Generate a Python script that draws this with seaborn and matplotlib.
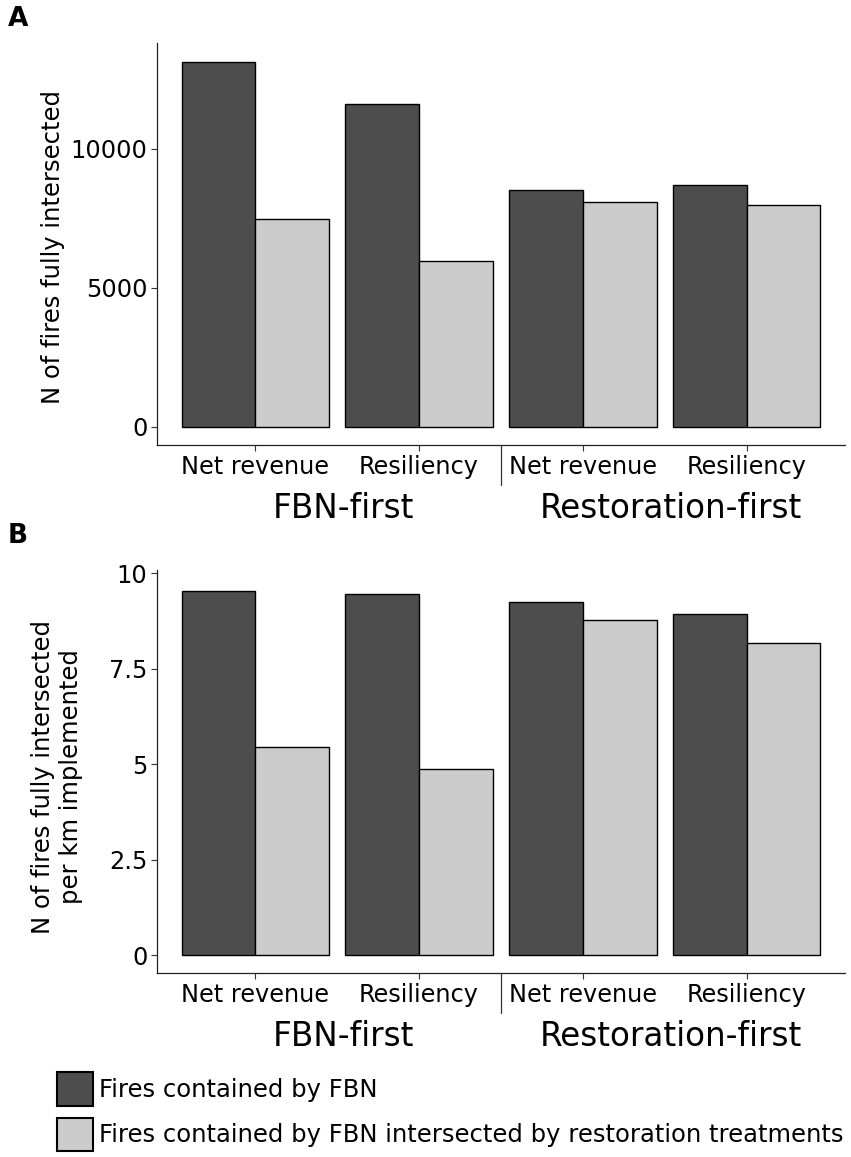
import pandas as pd
import seaborn as sns
import matplotlib.pyplot as plt
from matplotlib.patches import Patch
from matplotlib.transforms import blended_transform_factory

# data
strategies = ["FBN-first", "FBN-first", "Restoration-first", "Restoration-first"]
priorities = ["Net revenue", "Resiliency", "Net revenue", "Resiliency"]
series = ["Fires contained by FBN",
          "Fires contained by FBN intersected by restoration treatments"]

fires_fbn = [13110, 11610, 8500, 8690]
fires_restor = [7460, 5960, 8070, 7970]
per_km_fbn = [9.54, 9.46, 9.25, 8.93]
per_km_restor = [5.44, 4.86, 8.78, 8.18]

colors = ["#4d4d4d", "#cccccc"]

scen = [s + " / " + p for s, p in zip(strategies, priorities)]
df = pd.DataFrame({
    "scenario": scen * 2,
    "series": [series[0]] * 4 + [series[1]] * 4,
    "fires": fires_fbn + fires_restor,
    "per_km": per_km_fbn + per_km_restor,
})

sns.set_style("ticks")
plt.rcParams['font.family'] = ['DejaVu Sans']
plt.rcParams['text.color'] = 'black'

fig = plt.figure(figsize=(8.51, 11.57), dpi=100)
axA = fig.add_axes([0.1845, 0.6154, 0.8085, 0.3477])
axB = fig.add_axes([0.1845, 0.159, 0.8085, 0.3483])


def panel(ax, col, yticks, yticklabels, ylim):
    sns.barplot(data=df, x="scenario", y=col, hue="series", order=scen,
                hue_order=series, palette=colors, width=0.9, saturation=1,
                edgecolor="black", linewidth=1.0, ax=ax, legend=False)
    ax.set_xlim(-0.6, 3.6)
    ax.set_ylim(*ylim)
    ax.set_xticks(range(4))
    ax.set_xticklabels(priorities)
    ax.set_yticks(yticks)
    ax.set_yticklabels(yticklabels)
    ax.set_xlabel("")
    ax.set_ylabel("")
    ax.tick_params(direction="out", length=4, width=0.8, color="#333333",
                   labelsize=17.3, labelcolor="black", pad=3)
    sns.despine(ax=ax)
    for sp in ["left", "bottom"]:
        ax.spines[sp].set_linewidth(0.9)
        ax.spines[sp].set_color("#222222")
    trans = blended_transform_factory(ax.transData, ax.transAxes)
    ax.plot([1.5, 1.5], [0, -0.1], transform=trans, color="#333333",
            lw=0.9, clip_on=False)
    for x, name in [(0.5, "FBN-first"), (2.5, "Restoration-first")]:
        ax.annotate(name, xy=(x, 0), xycoords=trans, xytext=(4.5, -46),
                    textcoords="offset points", ha="center", va="center",
                    fontsize=23.5, color="black")


panel(axA, "fires", [0, 5000, 10000], ["0", "5000", "10000"], (-658, 13813))
panel(axB, "per_km", [0, 2.5, 5, 7.5, 10], ["0", "2.5", "5", "7.5", "10"],
      (-0.471, 10.08))

fig.text(53 / 851, 0.7865, "N of fires fully intersected", rotation=90,
         ha="center", va="center", fontsize=17.5)
fig.text(57 / 851, 0.3285, "N of fires fully intersected\nper km implemented",
         rotation=90, ha="center", va="center", fontsize=17.5,
         multialignment="center", linespacing=1.2)

fig.text(8 / 851, 1 - 6 / 1157, "A", fontsize=19, fontweight="bold",
         ha="left", va="top")
fig.text(8 / 851, 1 - 523 / 1157, "B", fontsize=19, fontweight="bold",
         ha="left", va="top")

handles = [Patch(facecolor=c, edgecolor="black", linewidth=1.5) for c in colors]
fig.legend(handles, series, loc="upper left",
           bbox_to_anchor=(57 / 851, 1 - 1072 / 1157), frameon=False,
           fontsize=17.5, handlelength=1.48, handleheight=1.75,
           handletextpad=0.25, labelspacing=0.5, borderpad=0,
           borderaxespad=0)

fig.savefig("out.png", dpi=100, facecolor="white")
